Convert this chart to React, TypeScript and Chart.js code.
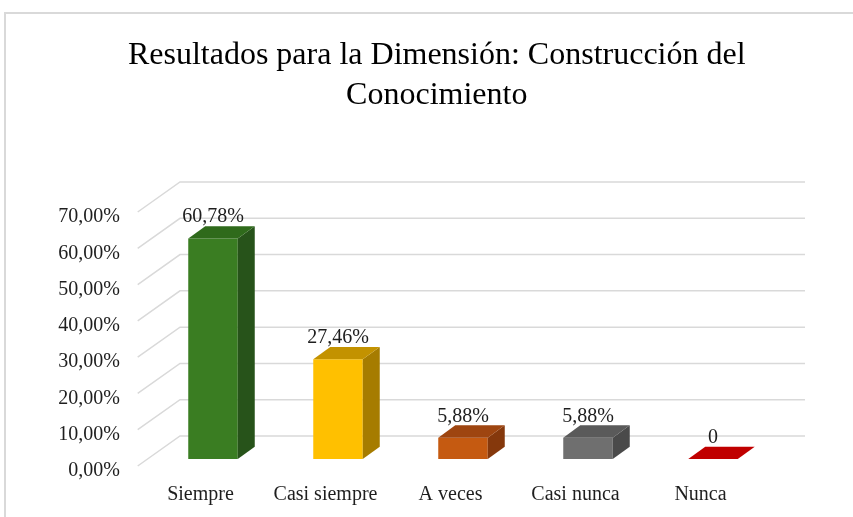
import React, { useEffect, useRef } from 'react';
import { Chart, registerables } from 'chart.js';

Chart.register(...registerables);

// ---- data ----
const categories = ['Siempre', 'Casi siempre', 'A veces', 'Casi nunca', 'Nunca'];
const values = [0.6078, 0.2746, 0.0588, 0.0588, 0];
const yMin = 0;
const yMax = 0.7;
const yStep = 0.1;
const titleLines = ['Resultados para la Dimensión: Construcción del', 'Conocimiento'];

// ---- styles ----
const frontColors = ['#3A7D22', '#FFC000', '#C55A11', '#6F6F6F', '#C00000'];
const topColors = ['#2F6A1B', '#C39200', '#9E4510', '#5A5A5A', '#C00000'];
const sideColors = ['#27531A', '#A67C00', '#85380C', '#4A4A4A', '#9A0000'];
const FONT = '"Liberation Serif", "Times New Roman", serif';
const TEXT_COLOR = '#1e1e1e';
const GRID_COLOR = '#d9d9d9';

const DEPTH_X = 17;
const DEPTH_Y = 12.3;
const WALL_FRONT = { dx: -12.8, dy: 7 };
const WALL_BACK = { dx: 29.5, dy: -23 };

const pct = (v: number) => (v * 100).toFixed(2).replace('.', ',') + '%';
const dataLabel = (v: number) => (v === 0 ? '0' : pct(v));

const wallPlugin = {
  id: 'wall3d',
  beforeDatasetsDraw(chart: any) {
    const { ctx, chartArea, scales } = chart;
    const y = scales.y;
    ctx.save();
    ctx.strokeStyle = GRID_COLOR;
    ctx.lineWidth = 1.5;
    y.ticks.forEach((t: any) => {
      const py = y.getPixelForValue(t.value);
      ctx.beginPath();
      ctx.moveTo(chartArea.left + WALL_FRONT.dx, py + WALL_FRONT.dy);
      ctx.lineTo(chartArea.left + WALL_BACK.dx, py + WALL_BACK.dy);
      ctx.lineTo(chartArea.right + WALL_BACK.dx, py + WALL_BACK.dy);
      ctx.stroke();
    });
    ctx.restore();
  },
};

const barsPlugin = {
  id: 'bars3d',
  afterDatasetsDraw(chart: any) {
    const { ctx } = chart;
    const meta = chart.getDatasetMeta(0);
    ctx.save();
    meta.data.forEach((bar: any, i: number) => {
      const { x, y, base, width } = bar.getProps(['x', 'y', 'base', 'width'], true);
      const l = x - width / 2;
      const r = x + width / 2;
      if (base - y > 0.5) {
        ctx.fillStyle = sideColors[i];
        ctx.beginPath();
        ctx.moveTo(r, y);
        ctx.lineTo(r + DEPTH_X, y - DEPTH_Y);
        ctx.lineTo(r + DEPTH_X, base - DEPTH_Y);
        ctx.lineTo(r, base);
        ctx.closePath();
        ctx.fill();
      }
      ctx.fillStyle = topColors[i];
      ctx.beginPath();
      ctx.moveTo(l, y);
      ctx.lineTo(l + DEPTH_X, y - DEPTH_Y);
      ctx.lineTo(r + DEPTH_X, y - DEPTH_Y);
      ctx.lineTo(r, y);
      ctx.closePath();
      ctx.fill();
      ctx.fillStyle = TEXT_COLOR;
      ctx.font = `20px ${FONT}`;
      ctx.textAlign = 'center';
      ctx.textBaseline = 'middle';
      ctx.fillText(dataLabel(values[i]), x, y - DEPTH_Y - 9);
    });
    ctx.restore();
  },
};

export default function App() {
  const ref = useRef<HTMLCanvasElement | null>(null);

  useEffect(() => {
    if (!ref.current) return;
    const chart = new Chart(ref.current, {
      type: 'bar',
      data: {
        labels: categories,
        datasets: [
          {
            data: values,
            yAxisID: 'y',
            backgroundColor: frontColors,
            borderWidth: 0,
            categoryPercentage: 1,
            barPercentage: 0.396,
          },
        ],
      },
      options: {
        responsive: false,
        animation: false,
        layout: { padding: { left: 40, right: 19.5, top: 0, bottom: 0 } },
        plugins: {
          legend: { display: false },
          tooltip: { enabled: false },
          title: {
            display: true,
            text: titleLines,
            color: '#000',
            font: { family: FONT, size: 32, weight: 'normal', lineHeight: 1.25 },
            padding: { top: 36, bottom: 89 },
          },
        },
        scales: {
          x: {
            grid: { display: false, drawTicks: false },
            border: { display: false },
            ticks: {
              color: TEXT_COLOR,
              font: { family: FONT, size: 20 },
              padding: 24,
              labelOffset: -12.5,
              maxRotation: 0,
              autoSkip: false,
            },
            afterFit: (s: any) => {
              s.height = 58;
            },
          },
          y: {
            position: 'left',
            min: yMin,
            max: yMax,
            grid: { display: false, drawTicks: false },
            border: { display: false },
            ticks: {
              stepSize: yStep,
              color: TEXT_COLOR,
              font: { family: FONT, size: 20 },
              padding: 30.5,
              labelOffset: 12,
              callback: (v: any) => pct(Number(v)),
            },
            afterFit: (s: any) => {
              s.width = 110.5;
            },
          },
          y2: {
            position: 'right',
            display: true,
            min: yMin,
            max: yMax,
            grid: { display: false, drawTicks: false },
            border: { display: false },
            ticks: { display: false },
            afterFit: (s: any) => {
              s.width = 58;
            },
          },
        },
      } as any,
      plugins: [wallPlugin, barsPlugin],
    });
    return () => chart.destroy();
  }, []);

  return (
    <div
      style={{
        position: 'fixed',
        left: 0,
        top: 0,
        width: 853,
        height: 517,
        background: '#fff',
        overflow: 'hidden',
      }}
    >
      <div
        style={{
          position: 'absolute',
          left: 4,
          top: 12,
          width: 900,
          height: 600,
          border: '2px solid #d9d9d9',
        }}
      />
      <canvas
        ref={ref}
        width={853}
        height={517}
        style={{ position: 'absolute', left: 0, top: 0, width: 853, height: 517 }}
      />
    </div>
  );
}
